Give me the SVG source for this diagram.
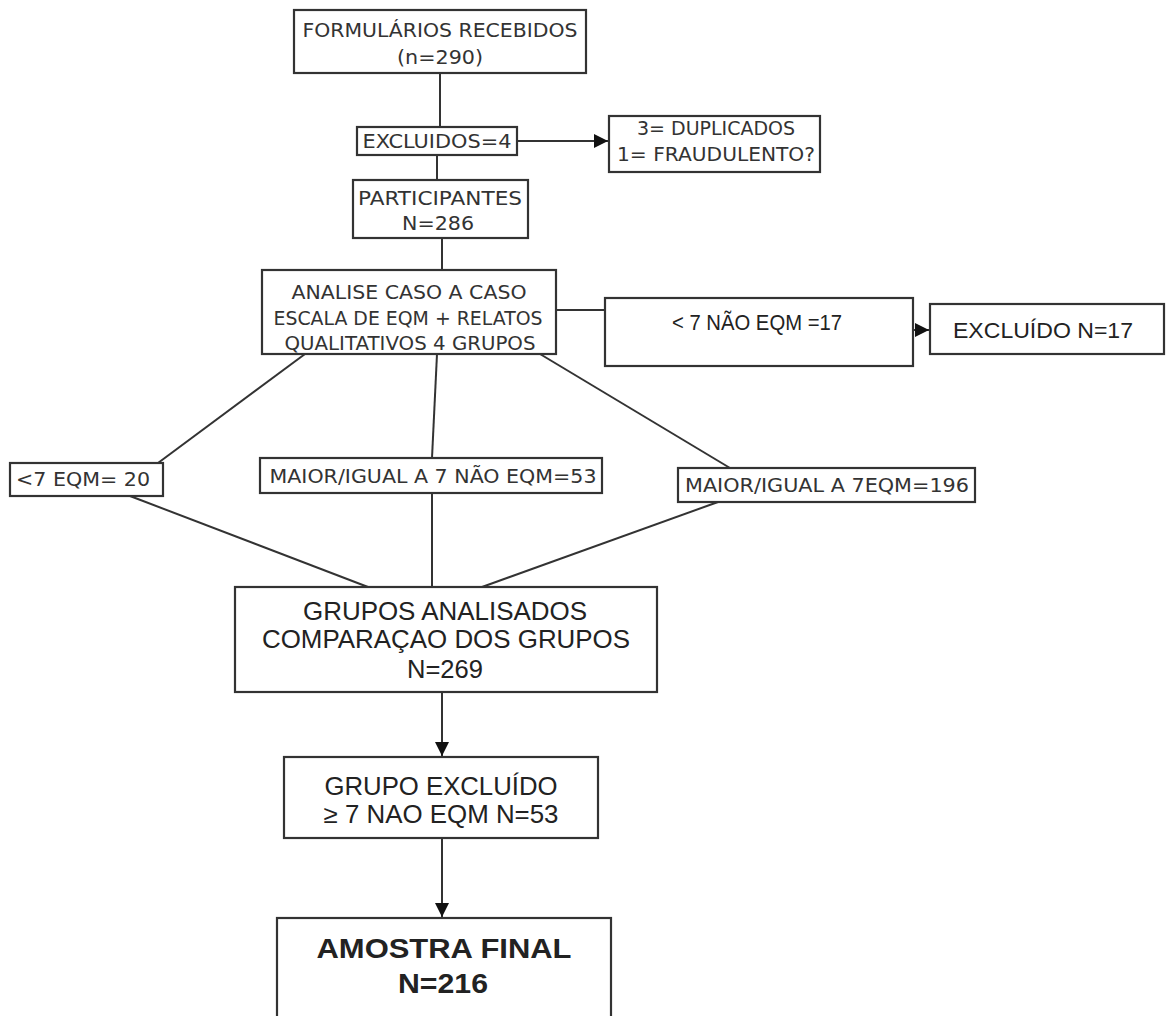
<svg xmlns="http://www.w3.org/2000/svg" width="1168" height="1016" viewBox="0 0 1168 1016">
<style>
.box{fill:#fff;stroke:#333;stroke-width:2.2}
.ln{fill:none;stroke:#333;stroke-width:2}
.v{font-family:"DejaVu Sans",Verdana,sans-serif;font-size:19px;fill:#333;text-anchor:middle}
.a{font-family:"Liberation Sans",Arial,sans-serif;fill:#222;text-anchor:middle}
</style>
<defs>
<marker id="ah" viewBox="0 0 10 10" refX="10" refY="5" markerWidth="7" markerHeight="7" markerUnits="strokeWidth" orient="auto">
<path d="M0,0 L10,5 L0,10 z" fill="#111"/>
</marker>
</defs>
<rect width="1168" height="1016" fill="#fff"/>
<g id="connectors">
<line class="ln" x1="440" y1="73" x2="440" y2="127"/>
<line class="ln" x1="517" y1="141" x2="608" y2="141" marker-end="url(#ah)"/>
<line class="ln" x1="437" y1="155" x2="437" y2="180"/>
<line class="ln" x1="442" y1="238" x2="442" y2="270"/>
<line class="ln" x1="556" y1="310" x2="605" y2="310"/>
<line class="ln" x1="913" y1="330" x2="929" y2="330" marker-end="url(#ah)"/>
<line class="ln" x1="305" y1="354" x2="158" y2="463"/>
<line class="ln" x1="437" y1="354" x2="432" y2="458"/>
<line class="ln" x1="540" y1="354" x2="730" y2="468"/>
<line class="ln" x1="130" y1="496" x2="368" y2="587"/>
<line class="ln" x1="432" y1="493" x2="432" y2="587"/>
<line class="ln" x1="718" y1="502" x2="482" y2="587"/>
<line class="ln" x1="442" y1="692" x2="442" y2="756" marker-end="url(#ah)"/>
<line class="ln" x1="442" y1="838" x2="442" y2="917" marker-end="url(#ah)"/>
</g>
<g id="n1"><rect class="box" x="294" y="10" width="292" height="63"/>
<text class="v" x="440" y="37" textLength="275" lengthAdjust="spacingAndGlyphs">FORMULÁRIOS RECEBIDOS</text>
<text class="v" x="440" y="64" textLength="86" lengthAdjust="spacingAndGlyphs">(n=290)</text></g>
<g id="n2"><rect class="box" x="357" y="127" width="160" height="28"/>
<text class="v" x="437" y="148" textLength="149" lengthAdjust="spacingAndGlyphs">EXCLUIDOS=4</text></g>
<g id="n3"><rect class="box" x="609" y="116" width="211" height="56"/>
<text class="v" x="716" y="135" textLength="158" lengthAdjust="spacingAndGlyphs">3= DUPLICADOS</text>
<text class="v" x="716" y="161" textLength="198" lengthAdjust="spacingAndGlyphs">1= FRAUDULENTO?</text></g>
<g id="n4"><rect class="box" x="353" y="180" width="175" height="58"/>
<text class="v" x="440" y="205" textLength="164" lengthAdjust="spacingAndGlyphs">PARTICIPANTES</text>
<text class="v" x="438" y="230" textLength="72" lengthAdjust="spacingAndGlyphs">N=286</text></g>
<g id="n5"><rect class="box" x="262" y="270" width="294" height="84"/>
<text class="v" x="409" y="299" textLength="235" lengthAdjust="spacingAndGlyphs">ANALISE CASO A CASO</text>
<text class="v" x="408" y="325" textLength="269" lengthAdjust="spacingAndGlyphs">ESCALA DE EQM + RELATOS</text>
<text class="v" x="410" y="350" textLength="251" lengthAdjust="spacingAndGlyphs">QUALITATIVOS 4 GRUPOS</text></g>
<g id="n6"><rect class="box" x="605" y="298" width="308" height="68"/>
<text class="a" x="757" y="330" font-size="22" textLength="170" lengthAdjust="spacingAndGlyphs">&lt; 7 NÃO EQM =17</text></g>
<g id="n7"><rect class="box" x="930" y="304" width="234" height="50"/>
<text class="a" x="1043" y="338" font-size="22" textLength="180" lengthAdjust="spacingAndGlyphs">EXCLUÍDO N=17</text></g>
<g id="n8"><rect class="box" x="10" y="463" width="153" height="33"/>
<text class="v" x="83" y="486" textLength="134" lengthAdjust="spacingAndGlyphs">&lt;7 EQM= 20</text></g>
<g id="n9"><rect class="box" x="260" y="458" width="342" height="35"/>
<text class="v" x="433" y="483" textLength="327" lengthAdjust="spacingAndGlyphs">MAIOR/IGUAL A 7 NÃO EQM=53</text></g>
<g id="n10"><rect class="box" x="678" y="468" width="297" height="34"/>
<text class="v" x="827" y="492" textLength="284" lengthAdjust="spacingAndGlyphs">MAIOR/IGUAL A 7EQM=196</text></g>
<g id="n11"><rect class="box" x="235" y="587" width="422" height="105"/>
<text class="a" x="445" y="620" font-size="25" textLength="284" lengthAdjust="spacingAndGlyphs">GRUPOS ANALISADOS</text>
<text class="a" x="446" y="648" font-size="25" textLength="368" lengthAdjust="spacingAndGlyphs">COMPARAÇAO DOS GRUPOS</text>
<text class="a" x="445" y="678" font-size="25" textLength="76" lengthAdjust="spacingAndGlyphs">N=269</text></g>
<g id="n12"><rect class="box" x="284" y="757" width="314" height="81"/>
<text class="a" x="441" y="795" font-size="25" textLength="233" lengthAdjust="spacingAndGlyphs">GRUPO EXCLUÍDO</text>
<text class="a" x="441" y="823" font-size="25" textLength="235" lengthAdjust="spacingAndGlyphs">≥ 7 NAO EQM N=53</text></g>
<g id="n13"><rect class="box" x="277" y="918" width="334" height="110"/>
<text class="a" x="444" y="958" font-size="27" font-weight="bold" textLength="255" lengthAdjust="spacingAndGlyphs">AMOSTRA FINAL</text>
<text class="a" x="443" y="993" font-size="27" font-weight="bold" textLength="90" lengthAdjust="spacingAndGlyphs">N=216</text></g>
</svg>
